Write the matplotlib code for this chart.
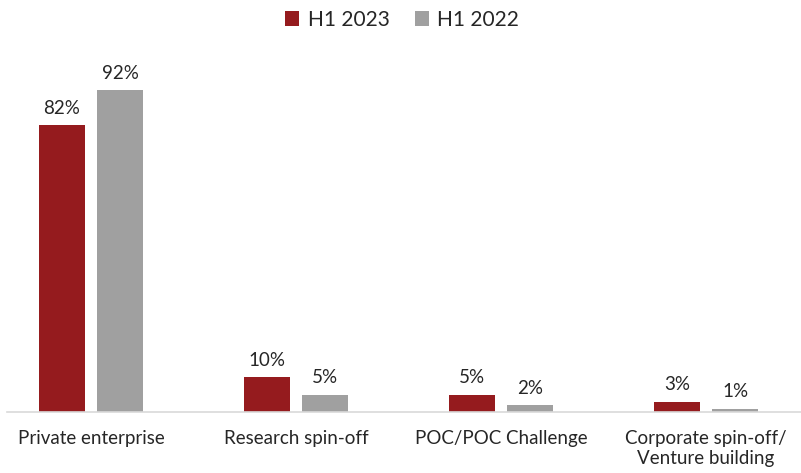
import matplotlib
matplotlib.use("Agg")
import matplotlib.pyplot as plt
import numpy as np

categories = ["Private enterprise", "Research spin-off", "POC/POC Challenge", "Corporate spin-off/\nVenture building"]
series_names = ["H1 2023", "H1 2022"]
h1_2023 = [82, 10, 5, 3]
h1_2022 = [92, 5, 2, 1]

plt.rcParams['font.family'] = ['Lato', 'DejaVu Sans']

fig = plt.figure(figsize=(8.01, 4.73), dpi=100)
W, H = 801, 473
base_y = 412
top_y = 44.5
ax = fig.add_axes([7 / W, (H - base_y) / H, 1 - 7 / W, (base_y - top_y) / H])

x = np.arange(len(categories))
bw = 46 / 205
off = 29 / 205
red = "#951B1E"
gray = "#A0A0A0"
b1 = ax.bar(x - off, h1_2023, bw, color=red, label=series_names[0])
b2 = ax.bar(x + off, h1_2022, bw, color=gray, label=series_names[1])

for bars, vals in ((b1, h1_2023), (b2, h1_2022)):
    for r, v in zip(bars, vals):
        ax.text(r.get_x() + r.get_width() / 2, v + 2.3, f"{v}%", ha="center", va="bottom",
                fontsize=13.5, color="#262626")

ax.set_xlim(-0.41, 3.463)
ax.set_ylim(0, 105)
ax.set_yticks([])
ax.set_xticks(x)
ax.set_xticklabels(categories, fontsize=13.5, color="#262626", linespacing=1.2)
ax.tick_params(axis="x", length=0, pad=13)
for s in ["top", "right", "left"]:
    ax.spines[s].set_visible(False)
ax.spines["bottom"].set_color("#D9D9D9")
ax.spines["bottom"].set_linewidth(1.2)

fig.legend(handles=[b1, b2], labels=series_names, loc="center", bbox_to_anchor=(402 / W, 1 - 20 / H),
           ncol=2, frameon=False, fontsize=15, handlelength=0.7, handleheight=0.7,
           handletextpad=0.4, columnspacing=1.2, labelcolor="#262626")

fig.savefig("out.png", dpi=100)
